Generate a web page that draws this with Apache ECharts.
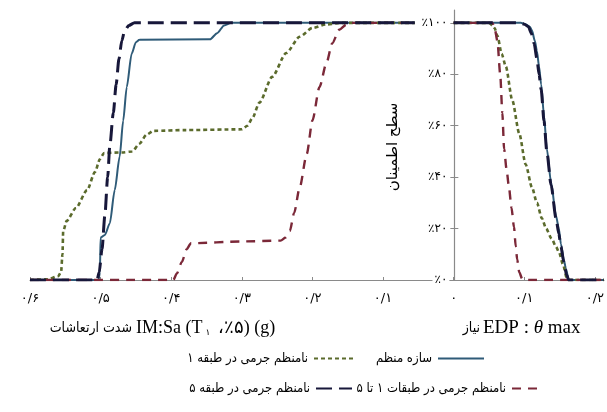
<!DOCTYPE html>
<html>
<head>
<meta charset="utf-8">
<script src="https://cdn.jsdelivr.net/npm/echarts@6/dist/echarts.min.js"></script>
<style>
html, body { margin: 0; padding: 0; background: #fff; }
#chart { width: 607px; height: 412px; }
</style>
</head>
<body>
<div id="chart"></div>
<script>
// منحنی های شکنندگی: چپ = شدت ارتعاشات (IM)، راست = نیاز (EDP)
var names = ['سازه منظم', 'نامنظم جرمی در طبقه ۱', 'نامنظم جرمی در طبقات ۱ تا ۵', 'نامنظم جرمی در طبقه ۵'];

// [Sa(g), %]  -- left half, Sa
var regularIM = [[0.60,0],[0.503,0],[0.501,3],[0.500,16.5],[0.494,17.5],[0.487,22],[0.480,35],[0.473,48],[0.468,62],[0.463,75],[0.456,88],[0.450,92.5],[0.445,93.4],[0.345,93.6],[0.335,96],[0.325,99],[0.315,100],[0.055,100]];
var mass1IM = [[0.60,0],[0.575,0.3],[0.560,1.5],[0.556,3],[0.554,10],[0.553,19],[0.548,23],[0.535,28],[0.519,35],[0.508,42],[0.501,47],[0.495,49.4],[0.470,49.6],[0.455,50],[0.445,53],[0.435,56.5],[0.425,58],[0.380,58.3],[0.300,58.6],[0.292,60],[0.285,63],[0.275,69],[0.257,79],[0.237,88.3],[0.218,94.6],[0.200,98],[0.180,99.4],[0.160,100],[0.055,100]];
var mass15IM = [[0.60,0],[0.397,0],[0.392,2.5],[0.385,7],[0.378,12],[0.372,14.3],[0.300,15],[0.245,15.3],[0.238,16.5],[0.232,19],[0.226,26],[0.218,36],[0.208,49],[0.200,62],[0.190,75],[0.180,84.5],[0.172,92],[0.162,97.3],[0.152,99.3],[0.145,100],[0.055,100]];
var mass5IM = [[0.60,0],[0.505,0],[0.502,3],[0.498,12],[0.494,25],[0.490,40],[0.487,52],[0.482,65],[0.478,76],[0.474,86],[0.470,93],[0.466,97],[0.460,99],[0.452,100],[0.055,100]];

// [theta max, %]  -- right half
var regularEDP = [[0,100],[0.095,100],[0.102,99.5],[0.108,98.5],[0.111,97],[0.115,93],[0.118,89],[0.121,83],[0.124,76],[0.128,64],[0.132,51],[0.138,38],[0.145,25],[0.149,20],[0.152,14],[0.156,8],[0.159,4.5],[0.163,0],[0.213,0]];
var mass1EDP = [[0,100],[0.050,100],[0.055,99],[0.058,98],[0.062,95],[0.068,88],[0.074,83],[0.083,70],[0.093,57],[0.102,45],[0.111,36],[0.118,30],[0.125,24],[0.131,20],[0.139,16],[0.145,13],[0.149,11],[0.155,6],[0.160,1],[0.163,0],[0.213,0]];
var mass15EDP = [[0,100],[0.055,100],[0.058,98],[0.062,93],[0.066,80],[0.069,65],[0.0715,51],[0.075,43],[0.078,37],[0.082,28],[0.0855,20.6],[0.088,13],[0.090,8],[0.093,3],[0.097,0.5],[0.100,0],[0.213,0]];
var mass5EDP = [[0,100],[0.093,100],[0.100,99.5],[0.106,98.5],[0.110,96],[0.114,92],[0.118,86],[0.121,80],[0.124,74],[0.128,62],[0.132,50],[0.138,37],[0.145,24],[0.149,18],[0.152,13],[0.156,7],[0.160,2],[0.163,0],[0.213,0]];

var xTicks = [-0.6,-0.5,-0.4,-0.3,-0.2,-0.1,0,0.1,0.2];
var yTicks = [0,20,40,60,80,100];

var colors = ['#2f5b78', '#5b6b2c', '#7b2838', '#17173a'];
var widths = [2, 2.6, 2.4, 3];
var dashes = ['solid', [4,3], [9,7], [16,7]];
var faFont = '"DejaVu Sans Condensed", "DejaVu Sans"';

function fa(s) {
    return String(s).replace(/\d/g, function(d) { return '۰۱۲۳۴۵۶۷۸۹'[d]; });
}

function mk(i, data) {
    return {
        name: names[i],
        type: 'line',
        data: data,
        symbol: 'none',
        smooth: 0.25,
        smoothMonotone: 'x',
        color: colors[i],
        lineStyle: { color: colors[i], width: widths[i], type: dashes[i] },
        animation: false
    };
}

var left = [regularIM, mass1IM, mass15IM, mass5IM];
var right = [regularEDP, mass1EDP, mass15EDP, mass5EDP];
var series = [];
for (var i = 0; i < 4; i++) {
    series.push(mk(i, left[i].map(function(p) { return [-p[0], p[1]]; })));
    series.push(mk(i, right[i]));
}

// legend: one box per item, icon on the right of the label
var legendPos = [
    { right: 117, top: 347, w: 46 },
    { right: 245, top: 347, w: 42 },
    { right: 59, top: 377, w: 30 },
    { right: 249, top: 377, w: 36 }
];
var legends = [];
for (var i = 0; i < 4; i++) {
    legends.push({
        data: [names[i]],
        right: legendPos[i].right,
        top: legendPos[i].top,
        align: 'right',
        itemWidth: legendPos[i].w,
        itemHeight: 12,
        itemGap: 4,
        selectedMode: false,
        itemStyle: { opacity: 0 },
        textStyle: { fontFamily: faFont, fontSize: 13, color: '#000', padding: [0, 1, 0, 0] }
    });
}

var chart = echarts.init(document.getElementById('chart'));
var gridLeft = 30, gridRight = 2, xMin = -0.6, xMax = 0.213;
var zeroX = (0 - xMin) / (xMax - xMin) * (607 - gridLeft - gridRight);

var option = {
    animation: false,
    grid: { left: gridLeft, right: gridRight, top: 10, bottom: 132 },
    xAxis: {
        type: 'value',
        min: xMin,
        max: xMax,
        interval: 0.1,
        splitLine: { show: false },
        axisLine: { onZero: false, lineStyle: { color: '#8a8a8a', width: 1.2 } },
        axisTick: { show: true, inside: true, length: 3, customValues: xTicks, lineStyle: { color: '#8a8a8a' } },
        axisLabel: {
            customValues: xTicks,
            margin: 12,
            color: '#000',
            fontSize: 13,
            fontFamily: 'DejaVu Sans',
            formatter: function(v) {
                var a = Math.abs(v);
                if (a < 1e-9) return '۰';
                return fa(a.toFixed(1)).replace('.', '/');
            }
        }
    },
    yAxis: [{
        type: 'value',
        min: 0,
        max: 105,
        interval: 20,
        position: 'left',
        offset: -zeroX,
        splitLine: { show: false },
        axisLine: { show: true, onZero: false, lineStyle: { color: '#8a8a8a', width: 1.2 } },
        axisTick: { show: true, length: 4, customValues: yTicks, lineStyle: { color: '#8a8a8a' } },
        axisLabel: {
            customValues: yTicks,
            margin: 5,
            color: '#000',
            fontSize: 12,
            fontFamily: 'DejaVu Sans',
            backgroundColor: '#fff',
            padding: [1, 2],
            formatter: function(v) { return '٪' + fa(v); }
        }
    }, {
        // second copy only for the inner half of the crossing ticks
        type: 'value',
        min: 0,
        max: 105,
        interval: 20,
        position: 'left',
        offset: -zeroX,
        splitLine: { show: false },
        axisLine: { show: false, onZero: false },
        axisTick: { show: true, inside: true, length: 4, customValues: yTicks, lineStyle: { color: '#8a8a8a' } },
        axisLabel: { show: false }
    }],
    legend: legends,
    graphic: [
        {
            type: 'text', x: 393, y: 147, rotation: Math.PI / 2,
            style: { text: 'سطح اطمینان', font: '15px "DejaVu Sans"', fill: '#000', align: 'center', verticalAlign: 'middle' }
        },
        {
            type: 'text', x: 132, y: 328,
            style: { text: 'شدت ارتعاشات', font: '14px ' + faFont, fill: '#000', align: 'right', verticalAlign: 'middle' }
        },
        {
            type: 'text', x: 136, y: 328,
            style: {
                text: '{a|IM:Sa (T}{s|۱}{a| ،٪۵) (g)}',
                verticalAlign: 'middle',
                rich: {
                    a: { fontFamily: 'Liberation Serif', fontSize: 18, fill: '#000' },
                    s: { fontFamily: 'DejaVu Sans', fontSize: 9, fill: '#000', padding: [10, 3, 0, 3] }
                }
            }
        },
        {
            type: 'text', x: 480, y: 328,
            style: { text: 'نیاز', font: '14px ' + faFont, fill: '#000', align: 'right', verticalAlign: 'middle' }
        },
        {
            type: 'text', x: 483, y: 328,
            style: {
                text: '{a|EDP : }{t|θ}{a| max}',
                verticalAlign: 'middle',
                rich: {
                    a: { fontFamily: 'Liberation Serif', fontSize: 19, fill: '#000' },
                    t: { fontFamily: 'Liberation Serif', fontStyle: 'italic', fontSize: 19, fill: '#000' }
                }
            }
        }
    ],
    series: series
};
chart.setOption(option);
</script>
</body>
</html>
